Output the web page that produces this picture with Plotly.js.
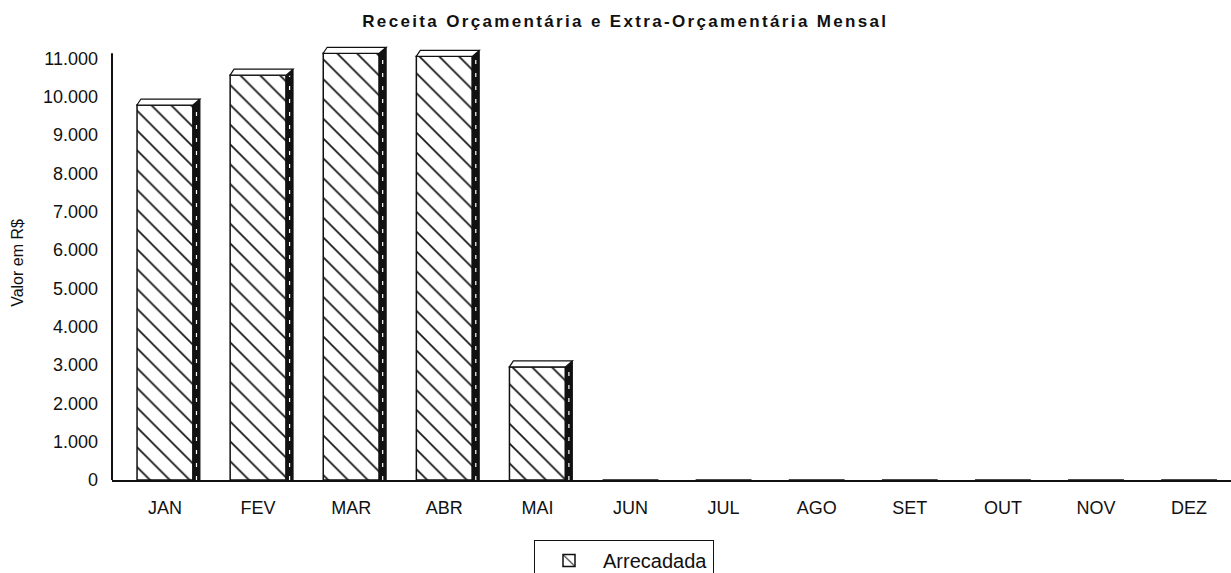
<!DOCTYPE html>
<html>
<head>
<meta charset="utf-8">
<script src="https://cdn.plot.ly/plotly-3.0.1.min.js"></script>
<style>
  html, body { margin: 0; padding: 0; background: #fff; }
  #chart { width: 1231px; height: 573px; }
</style>
</head>
<body>
<div id="chart"></div>
<script>
// ---- data ----
const months = ["JAN", "FEV", "MAR", "ABR", "MAI", "JUN", "JUL", "AGO", "SET", "OUT", "NOV", "DEZ"];
const arrecadada = [9780, 10560, 11130, 11050, 2950, 0, 0, 0, 0, 0, 0, 0];
const yTicks = [0, 1000, 2000, 3000, 4000, 5000, 6000, 7000, 8000, 9000, 10000, 11000];
const seriesName = "Arrecadada";
const chartTitle = "Receita Orçamentária e Extra-Orçamentária Mensal";
const yTitle = "Valor em R$";
const yAxisTop = 11131;

// ---- 3D look built from the data (anchored on each bar) ----
const shapes = [];
// y axis line (stops at the axis top, below the 3D caps)
shapes.push({type: "line", xref: "paper", yref: "y", x0: 0, x1: 0, y0: 0, y1: yAxisTop,
  line: {color: "#111", width: 2}, layer: "above"});
months.forEach((m, i) => {
  const v = arrecadada[i];
  if (v <= 0) return;
  // dark right side
  shapes.push({type: "rect", xref: "x", yref: "y", xsizemode: "pixel", xanchor: m,
    x0: 28, x1: 35, y0: 0, y1: v, fillcolor: "#111", line: {color: "#111", width: 1}, layer: "above"});
  // white dashes on the side
  shapes.push({type: "line", xref: "x", yref: "y", xsizemode: "pixel", xanchor: m,
    x0: 31.5, x1: 31.5, y0: 0, y1: v, line: {color: "#fff", width: 1.2, dash: "4px,9px"}, layer: "above"});
  // side top corner
  shapes.push({type: "path", xref: "x", yref: "y", xsizemode: "pixel", ysizemode: "pixel",
    xanchor: m, yanchor: v, path: "M 28 0 L 35 6 L 35 0 Z", fillcolor: "#111",
    line: {color: "#111", width: 1}, layer: "above"});
  // top face
  shapes.push({type: "path", xref: "x", yref: "y", xsizemode: "pixel", ysizemode: "pixel",
    xanchor: m, yanchor: v, path: "M -28 0 L -24 6 L 35 6 L 28 0 Z", fillcolor: "#fff",
    line: {color: "#111", width: 1.2}, layer: "above"});
});

const trace = {
  type: "bar",
  x: months,
  y: arrecadada,
  name: seriesName,
  width: 0.6,
  cliponaxis: false,
  marker: {
    color: "#fff",
    line: {color: "#111", width: 1.5},
    pattern: {shape: "\\", fgcolor: "#111", bgcolor: "#fff", size: 14, solidity: 0.12}
  },
  showlegend: true,
  hoverinfo: "x+y"
};

const layout = {
  width: 1231,
  height: 573,
  margin: {l: 112, r: 0, t: 46, b: 93},
  paper_bgcolor: "#fff",
  plot_bgcolor: "#fff",
  separators: ",.",
  font: {family: "Liberation Sans, Arial, sans-serif", color: "#111", size: 18},
  title: {
    text: chartTitle,
    font: {family: "Liberation Sans, Arial, sans-serif", size: 17, weight: "bold", color: "#111"},
    xref: "container", yref: "container",
    x: 0.508, xanchor: "center",
    y: 1 - 21 / 573, yanchor: "middle"
  },
  xaxis: {
    type: "category",
    range: [-0.569, 11.45],
    showline: true, linecolor: "#111", linewidth: 2,
    ticks: "", showgrid: false, zeroline: false,
    tickfont: {size: 18, color: "#111"},
    ticklabelstandoff: 10,
    fixedrange: true
  },
  yaxis: {
    range: [0, 11320],
    tickvals: yTicks,
    tickformat: ",d",
    showline: false,
    ticks: "", showgrid: false, zeroline: false,
    tickfont: {size: 18, color: "#111"},
    ticklabelstandoff: 13,
    title: {text: yTitle, font: {size: 16, color: "#111"}, standoff: 15},
    fixedrange: true
  },
  showlegend: true,
  legend: {
    orientation: "h",
    xref: "container", yref: "container",
    x: 534 / 1231, xanchor: "left",
    y: 1 - 540 / 573, yanchor: "top",
    bgcolor: "#fff",
    bordercolor: "#111", borderwidth: 1,
    itemwidth: 58,
    font: {size: 20, color: "#111"}
  },
  shapes: shapes,
  bargap: 0.4
};

Plotly.newPlot("chart", [trace], layout, {displayModeBar: false, staticPlot: true}).then(() => {
  // widen the title letter spacing to match the original's spaced-out lettering
  const t = document.querySelector(".gtitle");
  if (t) {
    const w = t.getComputedTextLength();
    const n = chartTitle.length;
    const target = 524;
    const ls = Math.max(0, (target - w) / (n - 1));
    t.style.letterSpacing = ls.toFixed(2) + "px";
  }
});
</script>
</body>
</html>
